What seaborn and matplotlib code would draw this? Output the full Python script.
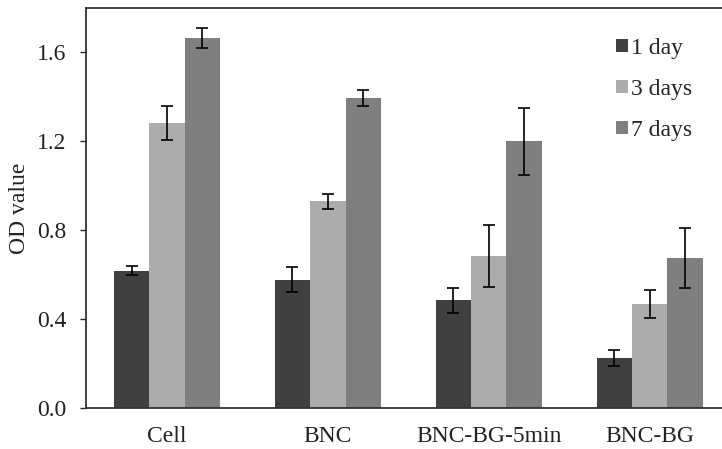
import numpy as np
import pandas as pd
import seaborn as sns
import matplotlib.pyplot as plt

# valores
grupos = ['Cell', 'BNC', 'BNC-BG-5min', 'BNC-BG']
tempos = ['1 day', '3 days', '7 days']
od_1dia = [0.617, 0.578, 0.485, 0.226]
od_3dias = [1.282, 0.930, 0.683, 0.470]
od_7dias = [1.666, 1.396, 1.200, 0.676]
erro_1dia = [0.020, 0.055, 0.057, 0.035]
erro_3dias = [0.075, 0.035, 0.140, 0.063]
erro_7dias = [0.045, 0.036, 0.150, 0.135]

medias = [od_1dia, od_3dias, od_7dias]
erros = [erro_1dia, erro_3dias, erro_7dias]

dados = pd.DataFrame({
    'Grupo': np.repeat([grupos], 3, axis=0).ravel(),
    'Tempo': np.repeat(tempos, len(grupos)),
    'OD': np.ravel(medias),
    'Erro': np.ravel(erros),
})

sns.set_style('white')
plt.rcParams['font.family'] = ['Liberation Serif', 'DejaVu Serif']

fig = plt.figure(figsize=(7.22, 4.49), dpi=100)
ax = fig.add_axes([86 / 722, 1 - 408 / 449, (722 - 86) / 722, 400 / 449])

cores = ['#404040', '#acacac', '#7f7f7f']
sns.barplot(data=dados, x='Grupo', y='OD', hue='Tempo', palette=cores,
            width=0.66, errorbar=None, saturation=1, ax=ax, linewidth=0)

# barras de erro sobre cada barra
for container, err in zip(ax.containers, erros):
    xs = [p.get_x() + p.get_width() / 2 for p in container.patches]
    ys = [p.get_height() for p in container.patches]
    ax.errorbar(xs, ys, yerr=err, fmt='none', ecolor='black',
                elinewidth=1.2, capsize=4, capthick=1.2)

tam = 17
ax.set_ylim(0, 1.8)
ax.set_xlim(-0.503, 3.45)
ax.set_yticks([0.0, 0.4, 0.8, 1.2, 1.6])
ax.set_yticklabels(['0.0', '0.4', '0.8', '1.2', '1.6'], fontsize=tam, color='#222222')
ax.set_xticklabels(grupos, fontsize=tam, color='#222222')
ax.set_xlabel('')
ax.set_ylabel('OD value', fontsize=tam, color='#222222', labelpad=5)
ax.tick_params(axis='y', direction='out', length=4, width=1, left=True, pad=10)
ax.tick_params(axis='x', length=0, pad=13)

for lado in ['left', 'bottom', 'top']:
    ax.spines[lado].set_color('#333333')
    ax.spines[lado].set_linewidth(1.3)
ax.spines['right'].set_visible(False)

leg = ax.legend(loc='upper left', bbox_to_anchor=(0.833, 0.925), frameon=False,
                fontsize=tam, handlelength=0.5, handleheight=0.5, handletextpad=0.15,
                labelspacing=0.85, borderpad=0, borderaxespad=0)

plt.savefig('out.png', dpi=100)
